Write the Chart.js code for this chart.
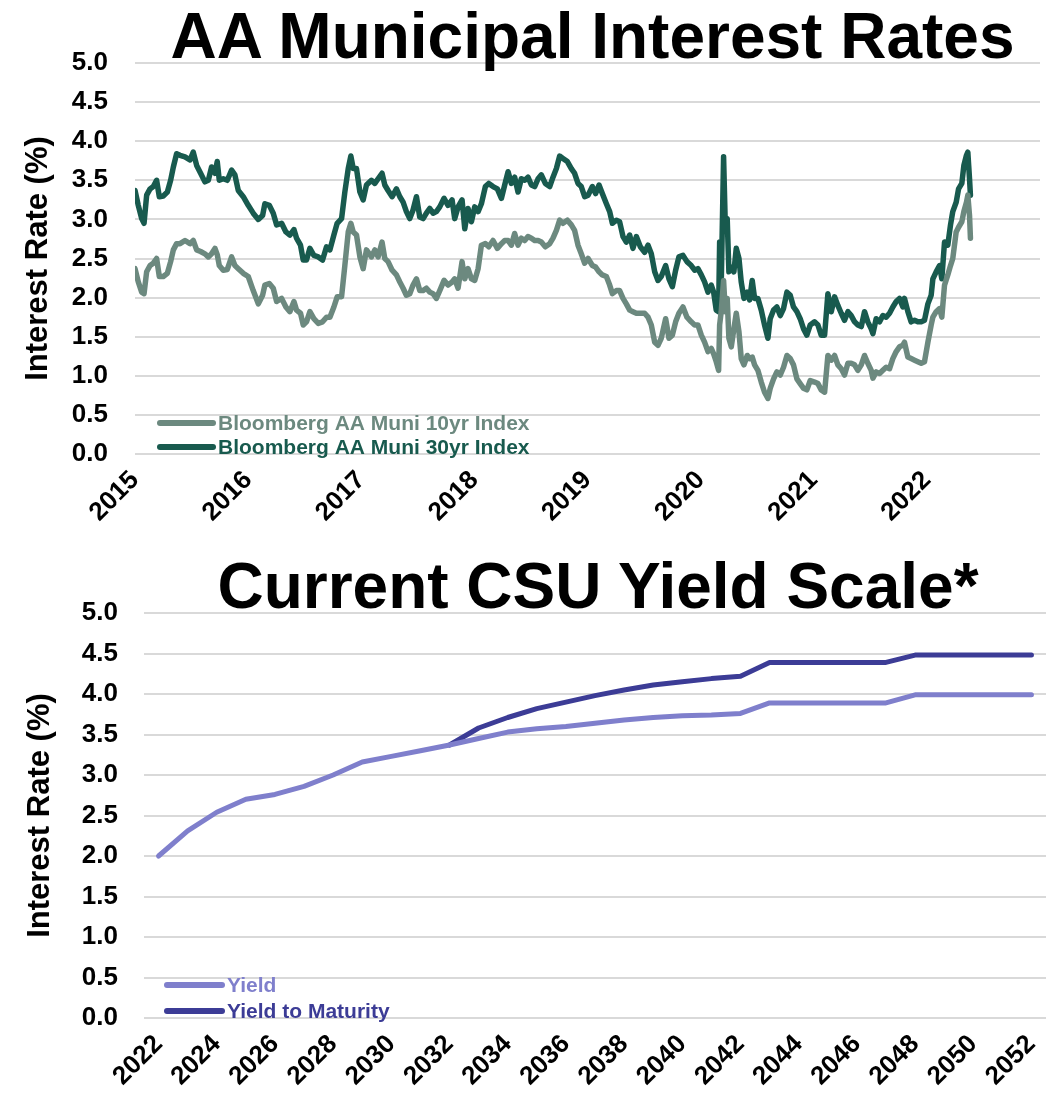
<!DOCTYPE html>
<html>
<head>
<meta charset="utf-8">
<script src="https://cdn.jsdelivr.net/npm/chart.js@4.4.1/dist/chart.umd.min.js"></script>
<style>
  body { margin: 0; background: #fff; }
  #page { position: relative; width: 1048px; height: 1100px; background: #fff; overflow: hidden; }
  canvas { position: absolute; left: 0; }
  .title {
    position: absolute; text-align: center; white-space: nowrap;
    font-family: "Liberation Sans", Arial, sans-serif; font-weight: bold;
    font-size: 64px; line-height: 64px; color: #000; z-index: 2;
  }
</style>
</head>
<body>
<div id="page">
  <div class="title" style="left:140px; top:4px; width:905px;">AA Municipal Interest Rates</div>
  <div class="title" style="left:147px; top:554px; width:902px;">Current CSU Yield Scale*</div>
  <canvas id="muniChart" width="1048" height="545" style="top:0;"></canvas>
  <canvas id="yieldChart" width="1048" height="555" style="top:545px;"></canvas>
</div>
<script>
// Bloomberg AA muni indices, dates as decimal years
const muniDates = [
  2015.000, 2015.029, 2015.059, 2015.080, 2015.103, 2015.133, 2015.162, 2015.191, 2015.215, 2015.250,
  2015.286, 2015.315, 2015.339, 2015.368, 2015.398, 2015.442, 2015.486, 2015.515, 2015.545, 2015.580,
  2015.618, 2015.648, 2015.677, 2015.707, 2015.727, 2015.745, 2015.780, 2015.816, 2015.854, 2015.883,
  2015.913, 2015.957, 2016.001, 2016.045, 2016.090, 2016.128, 2016.148, 2016.187, 2016.222, 2016.252,
  2016.296, 2016.334, 2016.369, 2016.405, 2016.428, 2016.463, 2016.487, 2016.516, 2016.546, 2016.581,
  2016.620, 2016.658, 2016.693, 2016.723, 2016.758, 2016.787, 2016.826, 2016.855, 2016.885, 2016.908,
  2016.929, 2016.958, 2016.988,
  2017.017, 2017.046, 2017.090, 2017.120, 2017.149, 2017.184, 2017.208, 2017.237, 2017.273, 2017.311,
  2017.341, 2017.370, 2017.399, 2017.429, 2017.458, 2017.488, 2017.517, 2017.547, 2017.576, 2017.606,
  2017.635, 2017.664, 2017.694, 2017.732, 2017.767, 2017.803, 2017.826, 2017.856, 2017.891, 2017.915,
  2017.944, 2017.974, 2018.003, 2018.033, 2018.062, 2018.097, 2018.127, 2018.165, 2018.203, 2018.239,
  2018.268, 2018.298, 2018.327, 2018.356, 2018.386, 2018.415, 2018.445, 2018.474, 2018.504, 2018.533,
  2018.563, 2018.592, 2018.627, 2018.666, 2018.695, 2018.725, 2018.754, 2018.783, 2018.822, 2018.857,
  2018.886, 2018.916, 2018.945, 2018.975,
  2019.005, 2019.043, 2019.072, 2019.102, 2019.131, 2019.167, 2019.196, 2019.220, 2019.255, 2019.284,
  2019.314, 2019.343, 2019.373, 2019.402, 2019.432, 2019.467, 2019.505, 2019.535, 2019.564, 2019.594,
  2019.623, 2019.652, 2019.691, 2019.720, 2019.750, 2019.779, 2019.808, 2019.844, 2019.879, 2019.917,
  2019.947, 2019.976, 2020.006, 2020.035, 2020.065, 2020.094, 2020.115, 2020.138, 2020.159, 2020.168,
  2020.182, 2020.203, 2020.218, 2020.235, 2020.250, 2020.271, 2020.294, 2020.315, 2020.339, 2020.359,
  2020.383, 2020.412, 2020.433, 2020.456, 2020.477, 2020.506, 2020.536, 2020.565, 2020.595, 2020.615,
  2020.645, 2020.674, 2020.704, 2020.733, 2020.763, 2020.792, 2020.821, 2020.851, 2020.880, 2020.910,
  2020.939, 2020.969,
  2021.007, 2021.037, 2021.066, 2021.096, 2021.125, 2021.155, 2021.184, 2021.213, 2021.243, 2021.272,
  2021.302, 2021.331, 2021.361, 2021.390, 2021.420, 2021.449, 2021.478, 2021.508, 2021.523, 2021.552,
  2021.582, 2021.611, 2021.640, 2021.670, 2021.699, 2021.729, 2021.758, 2021.788, 2021.802, 2021.832,
  2021.861, 2021.891, 2021.920, 2021.950, 2021.979, 2022.009, 2022.038, 2022.053, 2022.082, 2022.112,
  2022.132, 2022.156, 2022.185, 2022.209, 2022.229, 2022.259, 2022.280, 2022.309, 2022.327, 2022.350,
  2022.362, 2022.377, 2022.385
];

const muni10yr = [
  2.37, 2.20, 2.07, 2.05, 2.33, 2.41, 2.44, 2.50, 2.27, 2.27,
  2.31, 2.46, 2.61, 2.69, 2.69, 2.73, 2.69, 2.73, 2.61, 2.59,
  2.56, 2.52, 2.56, 2.63, 2.55, 2.41, 2.35, 2.36, 2.52, 2.41,
  2.37, 2.31, 2.27, 2.09, 1.92, 2.03, 2.16, 2.18, 2.12, 1.95,
  1.99, 1.88, 1.82, 1.95, 1.84, 1.80, 1.65, 1.69, 1.82, 1.73,
  1.67, 1.69, 1.75, 1.75, 1.88, 2.01, 2.01, 2.41, 2.84, 2.95,
  2.84, 2.80, 2.52,
  2.37, 2.61, 2.52, 2.61, 2.52, 2.71, 2.50, 2.46, 2.35, 2.29,
  2.20, 2.12, 2.03, 2.05, 2.16, 2.24, 2.09, 2.09, 2.12, 2.07,
  2.05, 1.99, 2.09, 2.22, 2.16, 2.20, 2.24, 2.12, 2.46, 2.24,
  2.37, 2.24, 2.22, 2.37, 2.67, 2.69, 2.65, 2.73, 2.63, 2.69,
  2.73, 2.73, 2.67, 2.82, 2.67, 2.76, 2.73, 2.78, 2.76, 2.73,
  2.73, 2.71, 2.65, 2.69, 2.76, 2.86, 2.99, 2.95, 2.99, 2.93,
  2.86, 2.67, 2.56, 2.44,
  2.50, 2.41, 2.39, 2.33, 2.29, 2.27, 2.16, 2.05, 2.09, 2.09,
  1.99, 1.92, 1.84, 1.82, 1.80, 1.80, 1.80, 1.75, 1.65, 1.43,
  1.39, 1.48, 1.73, 1.48, 1.52, 1.69, 1.80, 1.88, 1.75, 1.69,
  1.65, 1.65, 1.52, 1.43, 1.31, 1.35, 1.28, 1.18, 1.07, 1.65,
  1.82, 2.22, 1.82, 1.99, 1.48, 1.37, 1.60, 1.80, 1.56, 1.22,
  1.14, 1.26, 1.22, 1.24, 1.14, 1.07, 0.92, 0.79, 0.71, 0.84,
  0.96, 1.05, 1.01, 1.11, 1.26, 1.22, 1.14, 0.96, 0.90, 0.84,
  0.82, 0.94,
  0.92, 0.90, 0.82, 0.79, 1.26, 1.20, 1.26, 1.14, 1.09, 1.01,
  1.16, 1.16, 1.14, 1.07, 1.14, 1.26, 1.16, 1.07, 0.97, 1.05,
  1.03, 1.07, 1.11, 1.09, 1.22, 1.31, 1.37, 1.39, 1.43, 1.24,
  1.22, 1.20, 1.18, 1.16, 1.18, 1.43, 1.65, 1.75, 1.82, 1.86,
  1.75, 2.16, 2.29, 2.41, 2.50, 2.84, 2.90, 2.97, 3.10, 3.22,
  3.31, 3.05, 2.76
];

const muni30yr = [
  3.37, 3.18, 3.01, 2.95, 3.31, 3.39, 3.42, 3.50, 3.29, 3.30,
  3.35, 3.50, 3.67, 3.84, 3.82, 3.80, 3.76, 3.86, 3.69, 3.59,
  3.48, 3.50, 3.67, 3.59, 3.74, 3.50, 3.52, 3.50, 3.63, 3.57,
  3.37, 3.29, 3.18, 3.08, 3.00, 3.05, 3.20, 3.18, 3.08, 2.93,
  2.95, 2.84, 2.80, 2.87, 2.76, 2.67, 2.48, 2.48, 2.63, 2.54,
  2.52, 2.48, 2.65, 2.61, 2.80, 2.95, 3.01, 3.35, 3.65, 3.81,
  3.65, 3.65, 3.35,
  3.25, 3.44, 3.50, 3.46, 3.52, 3.59, 3.44, 3.37, 3.29, 3.39,
  3.29, 3.22, 3.10, 3.01, 3.12, 3.29, 3.03, 3.01, 3.08, 3.14,
  3.08, 3.10, 3.16, 3.27, 3.18, 3.25, 3.01, 3.16, 3.25, 2.88,
  3.14, 2.97, 3.16, 3.10, 3.20, 3.42, 3.46, 3.42, 3.39, 3.27,
  3.44, 3.61, 3.46, 3.54, 3.35, 3.52, 3.50, 3.54, 3.44, 3.42,
  3.52, 3.57, 3.46, 3.42, 3.54, 3.65, 3.81, 3.78, 3.74, 3.65,
  3.59, 3.46, 3.42, 3.29,
  3.31, 3.42, 3.33, 3.44, 3.33, 3.20, 3.10, 2.95, 2.99, 2.97,
  2.78, 2.71, 2.80, 2.63, 2.78, 2.65, 2.58, 2.67, 2.56, 2.33,
  2.22, 2.27, 2.41, 2.24, 2.14, 2.35, 2.52, 2.54, 2.46, 2.41,
  2.35, 2.37, 2.29, 2.20, 2.07, 2.16, 2.07, 1.84, 1.82, 2.71,
  2.16, 3.80, 2.93, 3.01, 2.33, 2.39, 2.33, 2.63, 2.50, 2.20,
  1.99, 2.07, 1.97, 2.22, 1.99, 1.99, 1.84, 1.65, 1.48, 1.73,
  1.84, 1.88, 1.77, 1.86, 2.07, 2.03, 1.88, 1.82, 1.73, 1.60,
  1.52, 1.65,
  1.69, 1.65, 1.52, 1.52, 2.05, 1.82, 2.01, 1.90, 1.80, 1.71,
  1.82, 1.77, 1.69, 1.65, 1.63, 1.82, 1.69, 1.60, 1.54, 1.73,
  1.69, 1.77, 1.75, 1.80, 1.88, 1.95, 1.99, 1.88, 1.99, 1.82,
  1.69, 1.71, 1.69, 1.69, 1.71, 1.92, 2.03, 2.24, 2.33, 2.41,
  2.24, 2.71, 2.67, 2.93, 3.10, 3.22, 3.39, 3.46, 3.69, 3.82,
  3.86, 3.52, 3.31
];

// CSU yield scale by maturity year
const scaleYears = [
  2022, 2023, 2024, 2025, 2026, 2027, 2028, 2029, 2030, 2031,
  2032, 2033, 2034, 2035, 2036, 2037, 2038, 2039, 2040, 2041,
  2042, 2043, 2044, 2045, 2046, 2047, 2048, 2049, 2050, 2051, 2052
];
const yieldValues = [
  2.00, 2.31, 2.54, 2.70, 2.76, 2.86, 3.00, 3.16, 3.23, 3.30,
  3.37, 3.45, 3.53, 3.57, 3.60, 3.64, 3.68, 3.71, 3.73, 3.74,
  3.76, 3.89, 3.89, 3.89, 3.89, 3.89, 3.99, 3.99, 3.99, 3.99, 3.99
];
const ytmValues = [
  null, null, null, null, null, null, null, null, null, null,
  3.37, 3.58, 3.71, 3.82, 3.90, 3.98, 4.05, 4.11, 4.15, 4.19,
  4.22, 4.39, 4.39, 4.39, 4.39, 4.39, 4.48, 4.48, 4.48, 4.48, 4.48
];

const FONT = '"Liberation Sans", Arial, sans-serif';
Chart.defaults.font.family = FONT;
Chart.defaults.color = '#000';

// legend drawn inside the plot, bottom-left corner
const insideLegend = {
  id: 'insideLegend',
  afterDatasetsDraw(chart, args, opts) {
    const { ctx, chartArea } = chart;
    ctx.save();
    ctx.font = 'bold 21px ' + FONT;
    ctx.textBaseline = 'middle';
    ctx.lineCap = 'round';
    ctx.lineWidth = 6;
    chart.data.datasets.forEach((ds, i) => {
      const x = chartArea.left + opts.left;
      const y = chartArea.bottom - opts.bottom + i * opts.gap;
      ctx.strokeStyle = ds.borderColor;
      ctx.beginPath();
      ctx.moveTo(x, y);
      ctx.lineTo(x + opts.len, y);
      ctx.stroke();
      ctx.fillStyle = ds.borderColor;
      ctx.fillText(ds.label, x + opts.len + 5, y + 1);
    });
    ctx.restore();
  }
};

function yAxis(width, tickPad, titlePad) {
  return {
    min: 0,
    max: 5,
    ticks: {
      stepSize: 0.5,
      padding: tickPad,
      font: { size: 26, weight: 'bold' },
      callback: v => v.toFixed(1)
    },
    grid: { color: '#D9D9D9', lineWidth: 2, drawTicks: false },
    border: { display: false },
    title: {
      display: true,
      text: 'Interest Rate (%)',
      font: { size: 31, weight: 'bold' },
      padding: { top: titlePad, bottom: 0 }
    },
    afterFit(scale) { scale.width = width; }
  };
}

// fixed-height x axis; rotated labels should not shrink the plot on the right
function fitX(height) {
  return function (scale) {
    scale.height = height;
    scale.paddingRight = 0;
  };
}

const muniCtx = document.getElementById('muniChart').getContext('2d');
new Chart(muniCtx, {
  type: 'line',
  data: {
    datasets: [{
      label: 'Bloomberg AA Muni 10yr Index',
      data: muniDates.map((d, i) => ({ x: d, y: muni10yr[i] })),
      borderColor: '#6C897F',
      borderWidth: 5.5,
      pointRadius: 0,
      borderJoinStyle: 'round',
      borderCapStyle: 'round'
    }, {
      label: 'Bloomberg AA Muni 30yr Index',
      data: muniDates.map((d, i) => ({ x: d, y: muni30yr[i] })),
      borderColor: '#185A4E',
      borderWidth: 5.5,
      pointRadius: 0,
      borderJoinStyle: 'round',
      borderCapStyle: 'round'
    }]
  },
  options: {
    responsive: false,
    animation: false,
    devicePixelRatio: 1,
    layout: { padding: { top: 63, right: 8, bottom: 0, left: 0 } },
    plugins: {
      legend: { display: false },
      tooltip: { enabled: false },
      insideLegend: { left: 25, bottom: 31, gap: 24, len: 53 }
    },
    scales: {
      x: {
        type: 'linear',
        min: 2015,
        max: 2023,
        ticks: {
          stepSize: 1,
          autoSkip: false,
          maxRotation: 45,
          minRotation: 45,
          padding: 3,
          font: { size: 26, weight: 'bold' },
          callback: v => (v < 2023 ? String(v) : '')
        },
        grid: { display: false },
        border: { display: false },
        afterFit: fitX(91)
      },
      y: yAxis(135, 27, 20)
    }
  },
  plugins: [insideLegend]
});

const yieldCtx = document.getElementById('yieldChart').getContext('2d');
new Chart(yieldCtx, {
  type: 'line',
  data: {
    labels: scaleYears.map(String),
    datasets: [{
      label: 'Yield',
      data: yieldValues,
      borderColor: '#7F7FCC',
      borderWidth: 5,
      pointRadius: 0,
      borderJoinStyle: 'round',
      borderCapStyle: 'round'
    }, {
      label: 'Yield to Maturity',
      data: ytmValues,
      borderColor: '#3C3C96',
      borderWidth: 5,
      pointRadius: 0,
      borderJoinStyle: 'round',
      borderCapStyle: 'round'
    }]
  },
  options: {
    responsive: false,
    animation: false,
    devicePixelRatio: 1,
    layout: { padding: { top: 68, right: 2, bottom: 0, left: 0 } },
    plugins: {
      legend: { display: false },
      tooltip: { enabled: false },
      insideLegend: { left: 23, bottom: 33, gap: 26, len: 55 }
    },
    scales: {
      x: {
        type: 'category',
        offset: true,
        ticks: {
          autoSkip: false,
          maxRotation: 45,
          minRotation: 45,
          padding: 3,
          font: { size: 26, weight: 'bold' },
          callback: (v, i) => (scaleYears[i] % 2 === 0 ? String(scaleYears[i]) : '')
        },
        grid: { display: false },
        border: { display: false },
        afterFit: fitX(82)
      },
      y: yAxis(144, 26, 22)
    }
  },
  plugins: [insideLegend]
});
</script>
</body>
</html>
